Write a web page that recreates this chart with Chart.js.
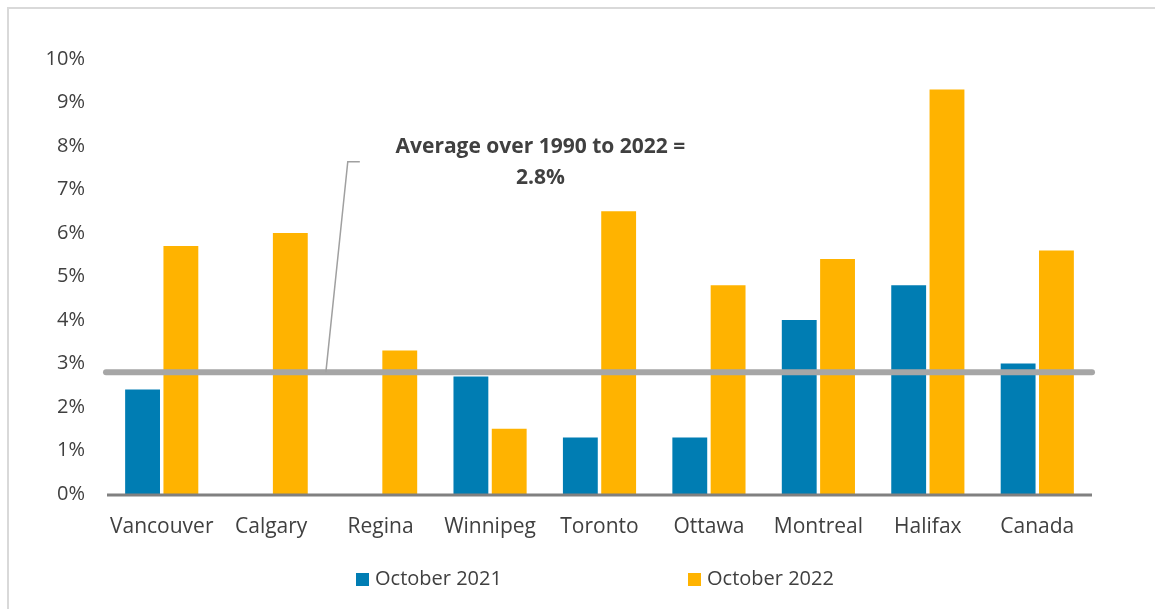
<!DOCTYPE html>
<html>
<head>
<meta charset="utf-8">
<script src="https://cdn.jsdelivr.net/npm/chart.js@4"></script>
<style>
  html, body { margin: 0; padding: 0; background: #fff; }
  #wrap { position: relative; width: 1155px; height: 609px; }
</style>
</head>
<body>
<div id="wrap"><canvas id="myChart" width="1155" height="609"></canvas></div>
<script>
// Data
const cities = ['Vancouver', 'Calgary', 'Regina', 'Winnipeg', 'Toronto', 'Ottawa', 'Montreal', 'Halifax', 'Canada'];
const oct2021 = [2.4, 0, 0, 2.7, 1.3, 1.3, 4.0, 4.8, 3.0];
const oct2022 = [5.7, 6.0, 3.3, 1.5, 6.5, 4.8, 5.4, 9.3, 5.6];
const average = 2.8;
const yTicks = [0, 1, 2, 3, 4, 5, 6, 7, 8, 9, 10];
const avgLabel = ['Average over 1990 to 2022 =', '2.8%'];

const BLUE = '#007DB3';
const ORANGE = '#FFB300';
const TEXT = '#404040';
const FONT = "'Open Sans', sans-serif";

// frame, axis line, average line and its callout
const decor = {
  id: 'decor',
  beforeDatasetsDraw(chart) {
    const ctx = chart.ctx;
    ctx.save();
    ctx.strokeStyle = '#D9D9D9';
    ctx.lineWidth = 2;
    ctx.beginPath();
    ctx.moveTo(8, chart.height);
    ctx.lineTo(8, 8);
    ctx.lineTo(chart.width, 8);
    ctx.stroke();
    ctx.restore();
  },
  afterDatasetsDraw(chart) {
    const ctx = chart.ctx;
    const x = chart.scales.x, y = chart.scales.y;
    const area = chart.chartArea;
    ctx.save();
    // x axis line
    ctx.strokeStyle = '#808080';
    ctx.lineWidth = 3;
    ctx.beginPath();
    ctx.moveTo(area.left, y.getPixelForValue(0) + 1);
    ctx.lineTo(area.right, y.getPixelForValue(0) + 1);
    ctx.stroke();
    // average line
    const ay = y.getPixelForValue(average);
    ctx.strokeStyle = '#A6A6A6';
    ctx.lineWidth = 6;
    ctx.lineCap = 'round';
    ctx.beginPath();
    ctx.moveTo(area.left - 1, ay);
    ctx.lineTo(area.right, ay);
    ctx.stroke();
    // callout leader
    ctx.lineCap = 'butt';
    ctx.lineWidth = 1.5;
    ctx.strokeStyle = '#A0A0A0';
    ctx.beginPath();
    ctx.moveTo(x.getPixelForValue(1.5), ay);
    ctx.lineTo(x.getPixelForValue(1.7), y.getPixelForValue(7.64));
    ctx.lineTo(x.getPixelForValue(1.81), y.getPixelForValue(7.64));
    ctx.stroke();
    // callout text
    ctx.fillStyle = TEXT;
    ctx.font = "bold 21px " + FONT;
    ctx.textAlign = 'center';
    ctx.textBaseline = 'middle';
    const cx = x.getPixelForValue(3.46);
    ctx.fillText(avgLabel[0], cx, y.getPixelForValue(7.97));
    ctx.fillText(avgLabel[1], cx, y.getPixelForValue(7.26));
    ctx.restore();
  },
  afterDraw(chart) {
    // legend
    const ctx = chart.ctx;
    const pos = [356, 688];
    ctx.save();
    ctx.font = "20px " + FONT;
    ctx.textBaseline = 'middle';
    ctx.textAlign = 'left';
    chart.data.datasets.forEach((ds, i) => {
      ctx.fillStyle = ds.backgroundColor;
      ctx.fillRect(pos[i], 573, 13, 13);
      ctx.fillStyle = TEXT;
      ctx.fillText(ds.label, pos[i] + 19, 579);
    });
    ctx.restore();
  }
};

const chartData = {
  labels: cities,
  datasets: [
    { label: 'October 2021', data: oct2021, backgroundColor: BLUE },
    { label: 'October 2022', data: oct2022, backgroundColor: ORANGE }
  ]
};

const config = {
  type: 'bar',
  data: chartData,
  options: {
    responsive: false,
    animation: false,
    layout: { padding: { left: 7, top: 59, right: 63, bottom: 55 } },
    datasets: { bar: { categoryPercentage: 0.7, barPercentage: 0.91 } },
    plugins: { legend: { display: false }, tooltip: { enabled: false } },
    scales: {
      x: {
        grid: { display: false, drawTicks: false },
        border: { display: false },
        ticks: {
          color: TEXT, font: { family: FONT, size: 21 }, padding: 20,
          maxRotation: 0, minRotation: 0, autoSkip: false
        },
        afterFit: s => { s.height = 60; }
      },
      y: {
        min: 0,
        max: 10,
        afterBuildTicks: s => { s.ticks = yTicks.map(v => ({ value: v })); },
        grid: { display: false, drawTicks: false },
        border: { display: false },
        ticks: { color: TEXT, font: { family: FONT, size: 20 }, padding: 22, callback: v => v + '%' },
        afterFit: s => { s.width = 100; }
      }
    }
  },
  plugins: [decor]
};

const myChart = new Chart(document.getElementById('myChart'), config);
</script>
</body>
</html>
